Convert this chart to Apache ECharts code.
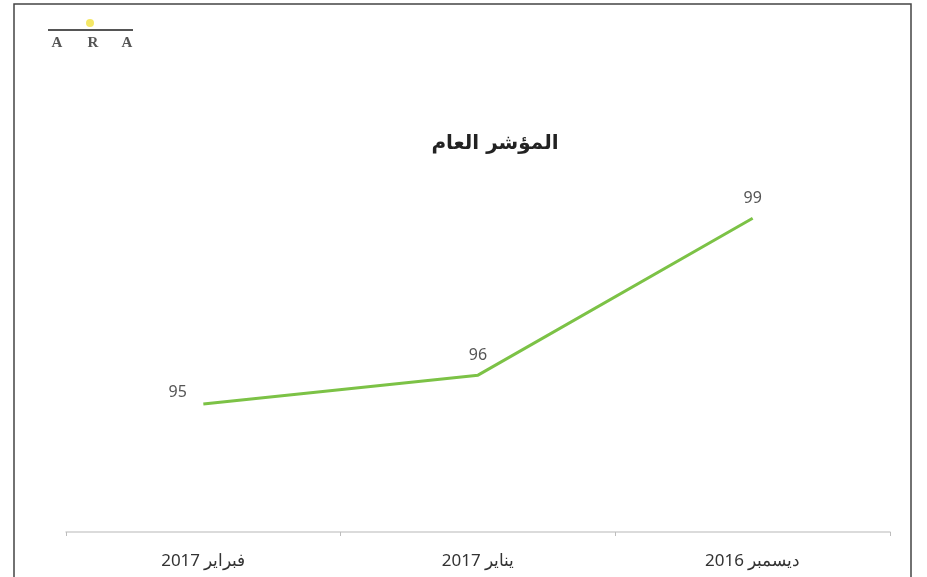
<!DOCTYPE html>
<html>
<head>
<meta charset="utf-8">
<style>
html,body{margin:0;padding:0;background:#ffffff;}
#chart{width:927px;height:577px;}
</style>
<script src="https://cdn.jsdelivr.net/npm/echarts@6/dist/echarts.min.js"></script>
</head>
<body>
<div id="chart"></div>
<script>
var categories = ['فبراير 2017', 'يناير 2017', 'ديسمبر 2016'];
var values = [95.45, 96, 99];
var titleText = 'المؤشر العام';

var chart = echarts.init(document.getElementById('chart'));

var seriesData = values.map(function (v, i) {
  var item = { value: v };
  if (i === 0) {
    item.label = { position: 'left', distance: 16, offset: [0, -11] };
  }
  return item;
});

chart.setOption({
  backgroundColor: '#ffffff',
  animation: false,
  title: {
    text: titleText,
    left: 490,
    top: 129,
    textAlign: 'center',
    textStyle: { fontFamily: 'DejaVu Sans', fontSize: 20, fontWeight: 'bold', color: '#222' }
  },
  grid: { left: 66, right: 37, top: 166, bottom: 45 },
  xAxis: {
    type: 'category',
    data: categories,
    boundaryGap: true,
    axisLine: { lineStyle: { color: '#cfcfcf', width: 1.5 } },
    axisTick: { show: true, length: 4, lineStyle: { color: '#bdbdbd' } },
    axisLabel: { margin: 21, fontSize: 17, color: '#333', fontFamily: 'Noto Sans' },
    splitLine: { show: false }
  },
  yAxis: {
    type: 'value',
    min: 93,
    max: 100,
    show: false,
    splitLine: { show: false }
  },
  series: [{
    type: 'line',
    data: seriesData,
    symbol: 'circle',
    symbolSize: 1,
    showSymbol: true,
    itemStyle: { color: 'rgba(124,194,70,0)', borderWidth: 0 },
    lineStyle: { color: '#7cc246', width: 3 },
    label: {
      show: true,
      position: 'top',
      distance: 11,
      fontSize: 16,
      color: '#555',
      opacity: 1,
      fontFamily: 'Noto Sans',
      formatter: function (p) { return Math.round(p.value); }
    }
  }],
  graphic: [
    { type: 'rect', shape: { x: 14, y: 4, width: 897, height: 590 }, style: { fill: 'none', stroke: '#444', lineWidth: 1.5 }, silent: true },
    { type: 'circle', shape: { cx: 90, cy: 23, r: 4 }, style: { fill: '#f2e34a', opacity: 0.85 }, silent: true },
    { type: 'line', shape: { x1: 48, y1: 30, x2: 133, y2: 30 }, style: { stroke: '#555', lineWidth: 2 }, silent: true },
    { type: 'text', style: { x: 57, y: 43, text: 'A', fill: '#555', font: 'bold 15px "Liberation Serif"', align: 'center', verticalAlign: 'middle' }, silent: true },
    { type: 'text', style: { x: 93, y: 43, text: 'R', fill: '#555', font: 'bold 15px "Liberation Serif"', align: 'center', verticalAlign: 'middle' }, silent: true },
    { type: 'text', style: { x: 127, y: 43, text: 'A', fill: '#555', font: 'bold 15px "Liberation Serif"', align: 'center', verticalAlign: 'middle' }, silent: true }
  ]
});
</script>
</body>
</html>
